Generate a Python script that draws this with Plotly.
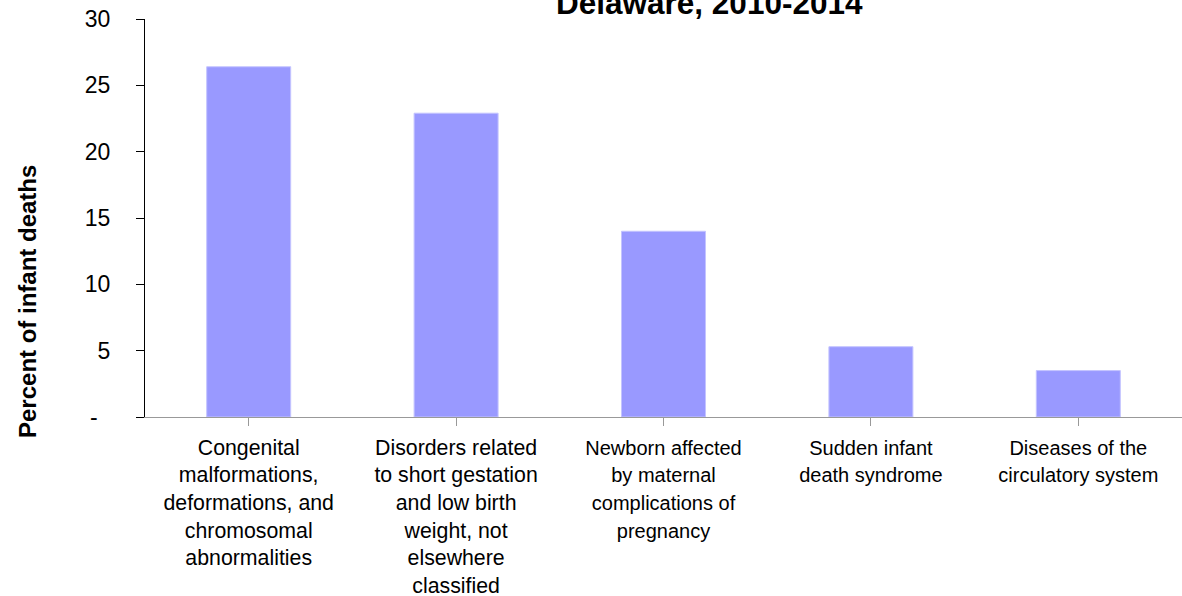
import plotly.graph_objects as go

# Leading causes of infant death, Delaware 2010-2014
categories = [
    "Congenital<br>malformations,<br>deformations, and<br>chromosomal<br>abnormalities",
    "Disorders related<br>to short gestation<br>and low birth<br>weight, not<br>elsewhere<br>classified",
    "Newborn affected<br>by maternal<br>complications of<br>pregnancy",
    "Sudden infant<br>death syndrome",
    "Diseases of the<br>circulatory system",
]
percent_of_deaths = [26.4, 22.9, 14.0, 5.3, 3.5]
y_tick_values = [0, 5, 10, 15, 20, 25, 30]
y_tick_labels = ["-\u00a0\u00a0", "5", "10", "15", "20", "25", "30"]

FONT = "Liberation Sans, Arial, sans-serif"

x_positions = list(range(len(categories)))
# the last three captions are set a little tighter
x_labels = [
    lab if i < 2 else f'<span style="font-size:20px">{lab}</span>'
    for i, lab in enumerate(categories)
]

fig = go.Figure(
    go.Bar(
        x=x_positions,
        y=percent_of_deaths,
        marker=dict(color="#9999FF", line=dict(color="#c4c4ff", width=1)),
        hoverinfo="skip",
    )
)

W, H = 1182, 596
L, R, T, B = 145, 0, 19, 179
pw, ph = W - L - R, H - T - B

fig.update_layout(
    width=W,
    height=H,
    margin=dict(l=L, r=R, t=T, b=B, autoexpand=False),
    paper_bgcolor="white",
    plot_bgcolor="white",
    bargap=0.595,
    showlegend=False,
    font=dict(family=FONT, size=22, color="black"),
)

fig.update_xaxes(
    range=[-0.5, len(categories) - 0.5],
    tickmode="array",
    tickvals=x_positions,
    ticktext=x_labels,
    tickson="boundaries",
    ticks="outside",
    ticklen=8,
    tickcolor="#999999",
    showline=True,
    linecolor="#999999",
    linewidth=1,
    showgrid=False,
    zeroline=False,
    automargin=False,
    tickfont=dict(family=FONT, size=21.3, color="black"),
    ticklabelstandoff=3,
    fixedrange=True,
)

fig.update_yaxes(
    range=[0, 30],
    tickmode="array",
    tickvals=y_tick_values,
    ticktext=y_tick_labels,
    ticks="outside",
    ticklen=8,
    tickcolor="black",
    showline=True,
    linecolor="black",
    linewidth=1,
    showgrid=False,
    zeroline=False,
    automargin=False,
    tickfont=dict(family=FONT, size=23, color="black"),
    ticklabelstandoff=21,
    fixedrange=True,
)

# Chart title (top line partly outside the page)
fig.add_annotation(
    text="<b>Delaware, 2010-2014</b>",
    xref="paper", yref="paper",
    x=(709 - L) / pw, y=(H - B - 3) / ph,
    xanchor="center", yanchor="middle",
    showarrow=False,
    font=dict(family=FONT, size=31.5, color="black"),
)

# Y-axis title
fig.add_annotation(
    text="<b>Percent of infant deaths</b>",
    xref="paper", yref="paper",
    x=(27 - L) / pw, y=(H - B - 302) / ph,
    xanchor="center", yanchor="middle",
    textangle=-90,
    showarrow=False,
    font=dict(family=FONT, size=24, color="black"),
)

fig.write_html("out.html", config={"displayModeBar": False})
